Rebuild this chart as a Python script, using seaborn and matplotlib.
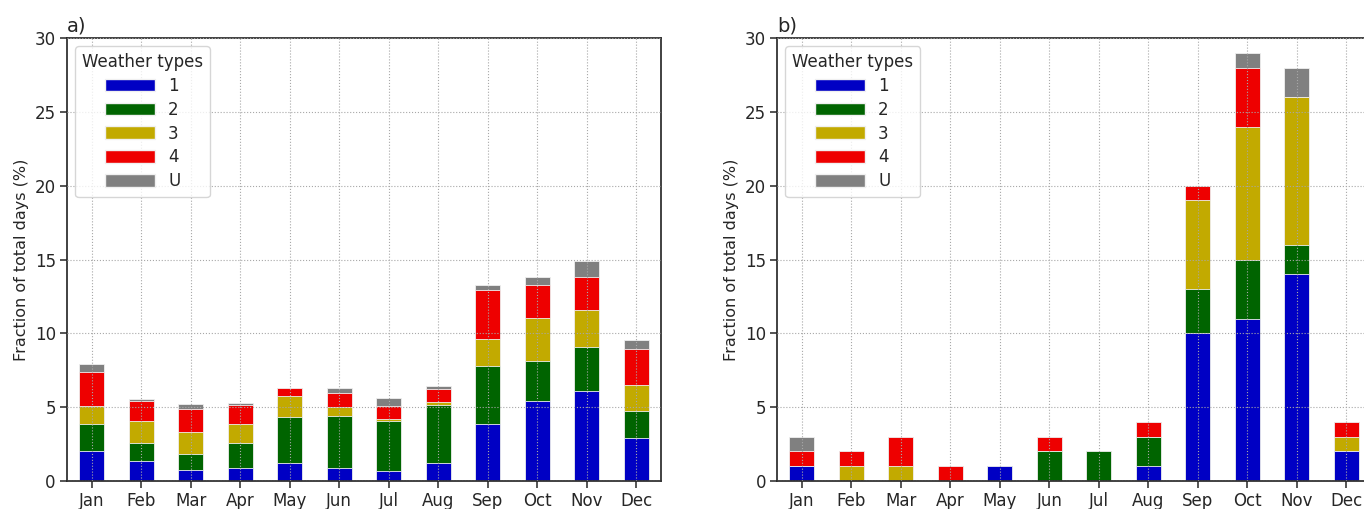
import numpy as np
import pandas as pd
import seaborn as sns
import matplotlib.pyplot as plt
from matplotlib.patches import Patch

months = ['Jan', 'Feb', 'Mar', 'Apr', 'May', 'Jun',
          'Jul', 'Aug', 'Sep', 'Oct', 'Nov', 'Dec']
types = ['1', '2', '3', '4', 'U']

# panel a) fraction of days per weather type (%)
a_wt1 = [2.06, 1.36, 0.75, 0.86, 1.22, 0.90, 0.68, 1.24, 3.87, 5.43, 6.09, 2.90]
a_wt2 = [1.81, 1.20, 1.11, 1.70, 3.12, 3.47, 3.41, 3.90, 3.91, 2.71, 2.96, 1.83]
a_wt3 = [1.22, 1.47, 1.44, 1.31, 1.43, 0.65, 0.12, 0.22, 1.84, 2.92, 2.51, 1.74]
a_wt4 = [2.31, 1.42, 1.61, 1.29, 0.50, 0.91, 0.84, 0.88, 3.30, 2.22, 2.24, 2.49]
a_wtU = [0.52, 0.09, 0.29, 0.11, 0.06, 0.40, 0.56, 0.19, 0.36, 0.52, 1.10, 0.61]

# panel b)
b_wt1 = [1, 0, 0, 0, 1, 0, 0, 1, 10, 11, 14, 2]
b_wt2 = [0, 0, 0, 0, 0, 2, 2, 2, 3, 4, 2, 0]
b_wt3 = [0, 1, 1, 0, 0, 0, 0, 0, 6, 9, 10, 1]
b_wt4 = [1, 1, 2, 1, 0, 1, 0, 1, 1, 4, 0, 1]
b_wtU = [1, 0, 0, 0, 0, 0, 0, 0, 0, 1, 2, 0]

colors = ['#0000c4', '#006400', '#c2aa00', '#ee0000', '#808080']

sns.set_style('ticks')
plt.rcParams['font.family'] = ['DejaVu Sans']
plt.rcParams['font.size'] = 12

fig = plt.figure(figsize=(13.64, 5.09), dpi=100)
ax_a = fig.add_axes([0.0491, 0.055, 0.4355, 0.8703])
ax_b = fig.add_axes([0.5697, 0.055, 0.4355, 0.8703])


def stacked(ax, series, label):
    df = pd.DataFrame(dict(zip(types, series)), index=months)
    cum = df.cumsum(axis=1)
    # draw tallest first so lower segments sit on top
    for t, c in reversed(list(zip(types, colors))):
        sns.barplot(x=cum.index, y=cum[t], color=c, width=0.5,
                    edgecolor='#f0f0f0', linewidth=0.6, saturation=1, ax=ax)
    ax.set_ylim(0, 30)
    ax.set_xlim(-0.5, 11.5)
    ax.set_yticks(range(0, 31, 5))
    ax.set_xlabel('')
    ax.set_ylabel('Fraction of total days (%)', fontsize=11.5)
    ax.set_axisbelow(False)
    ax.grid(True, linestyle=':', color='#a8a8a8', linewidth=0.8)
    for s in ax.spines.values():
        s.set_visible(True)
        s.set_color('#333333')
        s.set_linewidth(1.3)
    ax.tick_params(labelsize=12, length=5, width=1.1, pad=3)
    ax.set_title(label, loc='left', fontsize=14, pad=5)
    handles = [Patch(facecolor=c, edgecolor='#f0f0f0', label=t)
               for t, c in zip(types, colors)]
    ax.legend(handles=handles, title='Weather types', loc='upper left',
              fontsize=12, title_fontsize=12, handlelength=3.0,
              handleheight=0.8, labelspacing=0.35, borderaxespad=0.5)


stacked(ax_a, [a_wt1, a_wt2, a_wt3, a_wt4, a_wtU], 'a)')
stacked(ax_b, [b_wt1, b_wt2, b_wt3, b_wt4, b_wtU], 'b)')

fig.savefig('out.png', dpi=100)
